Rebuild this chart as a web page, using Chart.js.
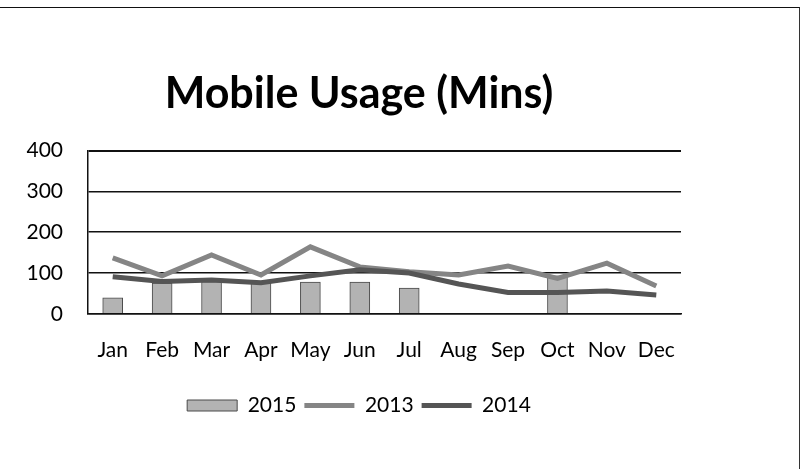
<!DOCTYPE html>
<html>
<head>
<meta charset="utf-8">
<script src="https://cdn.jsdelivr.net/npm/chart.js@4.4.1/dist/chart.umd.min.js"></script>
<style>
  html, body { margin: 0; padding: 0; background: #fff; }
  #wrap { position: relative; width: 803px; height: 469px; }
  #frame { position: absolute; left: -2px; top: 7px; width: 802px; height: 470px;
           border-top: 1.5px solid #111; border-right: 1.5px solid #333; box-sizing: border-box; }
  canvas { position: absolute; left: 0; top: 0; }
</style>
</head>
<body>
<div id="wrap">
  <div id="frame"></div>
  <canvas id="grafico" width="803" height="469"></canvas>
</div>
<script>
// ---------- DADOS ----------
const meses = ["Jan", "Feb", "Mar", "Apr", "May", "Jun", "Jul", "Aug", "Sep", "Oct", "Nov", "Dec"];
const uso2015 = [39, 75, 79, 75, 78, 78, 63, null, null, 93, null, null];
const uso2013 = [137, 93, 144, 95, 164, 115, 103, 95, 117, 87, 124, 68];
const uso2014 = [91, 79, 83, 76, 93, 108, 100, 73, 52, 52, 56, 46];
const ticksY = [0, 100, 200, 300, 400];

const fonte = "Lato, 'Open Sans', sans-serif";

// ---------- GRÁFICO ----------
const ctx = document.getElementById("grafico").getContext("2d");
new Chart(ctx, {
  data: {
    labels: meses,
    datasets: [
      {
        type: "bar",
        label: "2015",
        data: uso2015,
        backgroundColor: "#b3b3b3",
        borderColor: "#4a4a4a",
        borderWidth: 1,
        barThickness: 20,
        pointStyle: "rect",
        order: 3
      },
      {
        type: "line",
        label: "2013",
        data: uso2013,
        borderColor: "#858585",
        backgroundColor: "#858585",
        borderWidth: 5,
        pointRadius: 0,
        pointStyle: "line",
        tension: 0,
        order: 2
      },
      {
        type: "line",
        label: "2014",
        data: uso2014,
        borderColor: "#555555",
        backgroundColor: "#555555",
        borderWidth: 5,
        pointRadius: 0,
        pointStyle: "line",
        tension: 0,
        order: 1
      }
    ]
  },
  options: {
    responsive: false,
    animation: false,
    layout: { padding: { left: 25, right: 110, top: 68, bottom: 43 } },
    plugins: {
      title: {
        display: true,
        text: "Mobile Usage (Mins)",
        color: "#000",
        font: { family: fonte, size: 43, weight: "bold" },
        padding: { top: 0, bottom: 31 }
      },
      legend: {
        position: "bottom",
        labels: {
          usePointStyle: true,
          pointStyleWidth: 50,
          boxHeight: 11,
          color: "#000",
          font: { family: fonte, size: 21 },
          padding: 8,
          sort: (a, b) => a.datasetIndex - b.datasetIndex
        }
      },
      tooltip: { enabled: false }
    },
    scales: {
      x: {
        grid: { display: false, drawTicks: false },
        border: { display: true, color: "#111", width: 1.5 },
        ticks: { color: "#000", font: { family: fonte, size: 21 }, padding: 24, maxRotation: 0, autoSkip: false }
      },
      y: {
        min: 0,
        max: 400,
        afterBuildTicks: scale => { scale.ticks = ticksY.map(v => ({ value: v })); },
        afterFit: scale => { scale.width = 63; },
        grid: { color: "#111", lineWidth: ctx => (ctx.tick && ctx.tick.value === 400 ? 2 : 1.5), drawTicks: false },
        border: { display: true, color: "#111", width: 1.5 },
        ticks: { color: "#000", font: { family: fonte, size: 21 }, padding: 25 }
      },
      // eixo vazio só para reservar espaço à direita
      yDir: {
        position: "right",
        min: 0,
        max: 400,
        afterFit: scale => { scale.width = 12; },
        grid: { display: false },
        border: { display: false },
        ticks: { display: false }
      }
    }
  }
});
</script>
</body>
</html>
